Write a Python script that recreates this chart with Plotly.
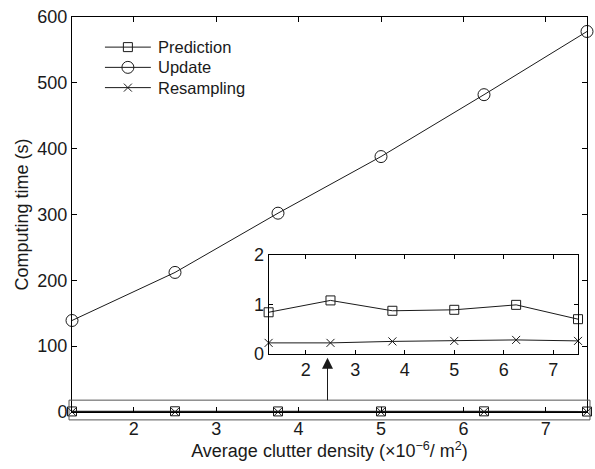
import plotly.graph_objects as go

x_vals = [1.25, 2.5, 3.75, 5.0, 6.25, 7.5]
update = [139, 212, 302, 388, 482, 578]
prediction = [0.84, 1.08, 0.87, 0.89, 0.99, 0.70]
resampling = [0.22, 0.22, 0.25, 0.26, 0.28, 0.26]

series_names = ["Prediction", "Update", "Resampling"]
main_yticks = [0, 100, 200, 300, 400, 500, 600]
xticks = [2, 3, 4, 5, 6, 7]
inset_yticks = [0, 1, 2]

FONT = "Liberation Sans, Arial, sans-serif"
INK = "#1a1a1a"

W, H = 595, 469
L, R, T, B = 72, 7, 12, 57
pw, ph = W - L - R, H - T - B


def px_to_paper_x(px):
    return (px - L) / pw


def px_to_paper_y(py):
    return (H - B - py) / ph


markers = {
    "Prediction": dict(symbol="square-open", size=9, color=INK, line=dict(width=1, color=INK)),
    "Update": dict(symbol="circle-open", size=12, color=INK, line=dict(width=1, color=INK)),
    "Resampling": dict(symbol="x-thin-open", size=8, color=INK, line=dict(width=1, color=INK)),
}

fig = go.Figure()

fig.add_trace(go.Scatter(x=x_vals, y=prediction, name="Prediction", mode="lines+markers",
                         line=dict(color=INK, width=1.3), marker=markers["Prediction"],
                         cliponaxis=False, showlegend=False))
fig.add_trace(go.Scatter(x=x_vals, y=update, name="Update", mode="lines+markers",
                         line=dict(color=INK, width=1), marker=markers["Update"],
                         cliponaxis=False, showlegend=False))
fig.add_trace(go.Scatter(x=x_vals, y=resampling, name="Resampling", mode="lines+markers",
                         line=dict(color=INK, width=1.3), marker=markers["Resampling"],
                         cliponaxis=False, showlegend=False))

# inset
fig.add_trace(go.Scatter(x=x_vals, y=prediction, mode="lines+markers", showlegend=False,
                         line=dict(color=INK, width=1), xaxis="x2", yaxis="y2",
                         marker=markers["Prediction"], cliponaxis=False))
fig.add_trace(go.Scatter(x=x_vals, y=resampling, mode="lines+markers", showlegend=False,
                         line=dict(color=INK, width=1), xaxis="x2", yaxis="y2",
                         marker=markers["Resampling"], cliponaxis=False))

# manual legend drawn on an invisible pixel-scaled overlay axis
leg_x0, leg_x1 = 105 - L, 151 - L
leg_rows = [42.5 - T, 63 - T, 83.5 - T]
for name, ly in zip(series_names, leg_rows):
    fig.add_trace(go.Scatter(x=[leg_x0, leg_x1], y=[ly, ly], mode="lines",
                             line=dict(color=INK, width=1), xaxis="x3", yaxis="y3",
                             showlegend=False, hoverinfo="skip"))
    fig.add_trace(go.Scatter(x=[(leg_x0 + leg_x1) / 2], y=[ly], mode="markers",
                             marker=markers[name], xaxis="x3", yaxis="y3",
                             showlegend=False, hoverinfo="skip"))
    fig.add_annotation(xref="x3", yref="y3", x=leg_x1 + 5, y=ly, text=name, showarrow=False,
                       xanchor="left", yanchor="middle", font=dict(size=16.5, color=INK))

axis_common = dict(showline=True, linecolor="black", linewidth=1, mirror="ticks",
                   ticks="inside", showgrid=False, zeroline=False,
                   tickfont=dict(family=FONT, size=18, color=INK), tickcolor="black")

fig.update_layout(
    width=W, height=H,
    margin=dict(l=L, r=R, t=T, b=B),
    paper_bgcolor="white", plot_bgcolor="white",
    font=dict(family=FONT, size=16, color=INK),
    showlegend=False,
    xaxis=dict(range=[1.25, 7.5], tickvals=xticks, ticklen=5,
               title=dict(text="Average clutter density (×10<sup>−6</sup>/ m<sup>2</sup>)",
                          font=dict(size=18), standoff=1),
               **axis_common),
    yaxis=dict(range=[0, 600], tickvals=main_yticks, ticklen=5,
               title=dict(text="Computing time (s)", font=dict(size=18), standoff=4),
               **axis_common),
    xaxis2=dict(domain=[px_to_paper_x(269), px_to_paper_x(579)], anchor="y2",
                range=[1.25, 7.5], tickvals=xticks, ticklen=4, **axis_common),
    yaxis2=dict(domain=[px_to_paper_y(353), px_to_paper_y(253)], anchor="x2",
                range=[0, 2], tickvals=inset_yticks, ticklen=4, **axis_common),
    xaxis3=dict(domain=[0, 1], anchor="y3", range=[0, pw], visible=False, overlaying="x"),
    yaxis3=dict(domain=[0, 1], anchor="x3", range=[ph, 0], visible=False, overlaying="y"),
)

# zoom rectangle around the near-zero data
fig.add_shape(type="rect", xref="paper", yref="paper",
              x0=px_to_paper_x(69), x1=px_to_paper_x(591),
              y0=px_to_paper_y(420), y1=px_to_paper_y(400),
              line=dict(color="#555555", width=1), fillcolor="rgba(0,0,0,0)", layer="above")

# arrow from zoom rectangle to inset
fig.add_annotation(xref="paper", yref="paper", x=px_to_paper_x(328), y=px_to_paper_y(357),
                   ax=0, ay=44, axref="pixel", ayref="pixel", text="", showarrow=True,
                   arrowhead=2, arrowsize=2.2, arrowwidth=1, arrowcolor=INK)

fig.write_html("out.html")
